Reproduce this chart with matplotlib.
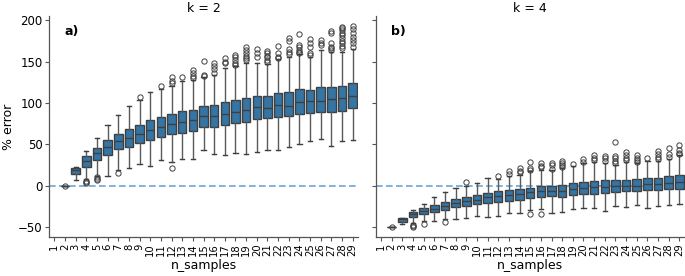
import matplotlib
matplotlib.use("Agg")
import matplotlib.pyplot as plt

n_samples = list(range(1, 30))
titles = ["k = 2", "k = 4"]
panel_tags = ["a)", "b)"]

# ---- k = 2 (index 0 -> n_samples=1, no data) ----
k2_q1 = [None, 0, 13.7, 22.9, 31.4, 36.6, 43.9, 47.1, 51.1, 55.5, 58.4, 62.8, 63.2, 66.4, 70.8,
         71.2, 72.8, 75.3, 76.5, 80.5, 81.7, 83.3, 83.7, 86.1, 87.7, 88.5, 89.3, 90.5, 94.2]
k2_med = [None, 0, 18.5, 29.8, 39.4, 46.3, 53.9, 57.9, 62.8, 67.2, 70.8, 74.0, 76.9, 79.7, 83.7,
          83.7, 86.5, 89.3, 90.9, 95.0, 94.2, 97.4, 96.2, 100.6, 101.8, 102.6, 104.2, 106.2, 108.2]
k2_q3 = [None, 0, 21.7, 35.4, 45.9, 54.7, 62.4, 68.0, 73.2, 78.9, 82.5, 86.5, 89.7, 91.8, 96.2,
         97.8, 101.0, 103.4, 106.2, 108.2, 108.2, 111.5, 113.0, 116.7, 115.9, 119.0, 119.0, 120.3, 123.5]
k2_lo = [None, 0, 6.8, 7.6, 11.5, 11.3, 18.9, 21.3, 25.8, 23.3, 30.6, 28.6, 32.6, 31.8, 42.7,
         37.8, 37.0, 39.4, 38.6, 40.2, 42.7, 42.7, 46.7, 50.0, 54.0, 56.3, 47.9, 54.3, 55.0]
k2_hi = [None, 0, 22.5, 41.4, 57.9, 72.8, 85.7, 96.6, 104.0, 112.7, 116.7, 120.0, 126.0, 127.6, 131.6,
         134.0, 142.5, 144.5, 147.7, 148.5, 146.5, 152.5, 156.0, 158.5, 156.0, 163.4, 161.8, 162.0, 164.6]
k2_fliers = [[], [0], [], [3.6, 4.8, 6.0], [6.5, 8.0, 10.0], [], [15.3], [], [107.0], [], [120.7],
             [131.0, 127.0, 124.0, 21.3], [131.0], [129.6, 133.0, 136.5, 140.0],
             [150.9, 134.0, 132.5], [148.0, 145.0, 141.0, 136.0], [153.7, 150.0, 147.7],
             [157.7, 155.0, 152.0, 148.0, 146.0], [167.8, 164.0, 160.0, 157.0, 154.0, 151.7],
             [164.6, 160.0, 155.7], [163.0, 160.0, 157.0, 155.0, 152.0, 149.7],
             [169.0, 160.0, 155.0, 153.7], [179.0, 175.0, 165.0, 161.0, 159.0],
             [183.5, 170.0, 167.0, 164.0, 162.0, 160.0], [177.0, 172.0, 168.0, 160.0, 157.8],
             [175.8, 172.0, 169.4], [187.0, 185.0, 172.0, 168.0, 166.0, 164.0],
             [192.0, 190.0, 188.0, 185.0, 182.0, 179.0, 175.0, 172.0, 169.0, 166.0],
             [192.8, 189.0, 184.0, 180.0, 176.0, 172.0, 168.0]]

# ---- k = 4 ----
k4_q1 = [None, -50, -44.3, -38.2, -34.6, -31.8, -29.4, -25.8, -24.1, -22.1, -20.9, -19.3, -18.1, -17.3, -14.5,
         -13.7, -12.9, -13.3, -11.3, -10.5, -9.7, -9.3, -7.2, -6.8, -6.4, -5.6, -4.8, -3.6, -3.6]
k4_med = [None, -50, -40.6, -34.2, -30.6, -27.8, -24.1, -20.5, -18.9, -16.9, -13.3, -12.5, -10.9, -10.1, -7.6,
          -6.8, -6.8, -6.4, -3.6, -2.8, -2.0, -1.6, -0.4, 0.0, 0.0, 1.6, 2.0, 3.6, 4.0]
k4_q3 = [None, -50, -39.0, -31.8, -27.4, -23.3, -19.3, -15.7, -13.3, -10.9, -8.9, -6.8, -5.6, -4.4, -2.4,
         0.0, 0.0, 1.2, 3.2, 4.0, 5.2, 6.4, 6.4, 7.2, 8.0, 9.3, 9.7, 11.3, 12.5]
k4_lo = [None, -50, -46.7, -44.7, -42.3, -43.0, -40.6, -40.6, -38.6, -37.0, -38.2, -37.0, -33.4, -33.4, -29.0,
         -28.6, -33.0, -32.2, -27.8, -27.4, -26.6, -30.6, -24.1, -26.2, -23.7, -26.6, -25.0, -23.7, -22.0]
k4_hi = [None, -50, -38.6, -29.0, -21.7, -14.1, -7.2, -2.4, 0.0, 3.2, 8.9, 7.6, 11.7, 13.0, 18.0,
         19.0, 19.0, 21.0, 24.0, 27.0, 29.0, 28.0, 25.0, 29.0, 27.6, 30.0, 29.8, 32.0, 37.0]
k4_fliers = [[], [-50], [], [-47.0, -48.5, -49.5], [-45.9], [], [-43.9], [], [4.4], [], [],
             [12.0], [17.7, 14.0], [21.0, 18.0, 16.0], [29.0, 21.7, 19.3, -34.6],
             [28.0, 24.0, 22.0, -34.6], [28.0, 24.5, 20.5], [30.0, 27.6, 25.0, 23.0],
             [26.6], [32.6, 29.0], [37.0, 34.0, 31.0], [35.8, 33.0, 30.0],
             [52.3, 35.8, 33.0, 30.0, 27.0], [40.2, 37.0, 34.0, 31.0], [37.0, 34.0, 31.0, 29.0],
             [33.4], [41.8, 38.0, 35.0, 32.0], [45.5, 38.0, 35.0], [49.0, 43.0, 40.0, 38.6]]

panels = [
    (k2_q1, k2_med, k2_q3, k2_lo, k2_hi, k2_fliers),
    (k4_q1, k4_med, k4_q3, k4_lo, k4_hi, k4_fliers),
]

box_color = "#3575a6"
line_color = "#3f3f3f"
whisk_color = "#5a5a5a"
fs = 8.5

fig = plt.figure(figsize=(6.85, 2.76), dpi=100)
ax1 = fig.add_axes([49 / 685, 1 - 237 / 276, 309 / 685, 221 / 276])
ax2 = fig.add_axes([375.7 / 685, 1 - 237 / 276, 309 / 685, 221 / 276], sharey=ax1)
axes = [ax1, ax2]

for ax, (q1, med, q3, lo, hi, fl), title, tag in zip(axes, panels, titles, panel_tags):
    stats, pos = [], []
    for i in range(len(n_samples)):
        if med[i] is None:
            continue
        stats.append(dict(med=med[i], q1=q1[i], q3=q3[i], whislo=lo[i], whishi=hi[i], fliers=fl[i]))
        pos.append(i)
    ax.bxp(stats, positions=pos, widths=0.8, capwidths=0.4, patch_artist=True,
           boxprops=dict(facecolor=box_color, edgecolor=line_color, linewidth=1.0),
           medianprops=dict(color=line_color, linewidth=1.0),
           whiskerprops=dict(color=whisk_color, linewidth=1.0),
           capprops=dict(color=line_color, linewidth=1.0),
           flierprops=dict(marker="o", markerfacecolor="none", markeredgecolor=line_color,
                           markersize=3.8, markeredgewidth=0.7))
    ax.axhline(0, color="#5b9bd5", linestyle=(0, (4, 2)), linewidth=1.2, alpha=0.9, zorder=0.5)
    ax.set_xlim(-0.5, len(n_samples) - 0.5)
    ax.set_xticks(range(len(n_samples)))
    ax.set_xticklabels([str(v) for v in n_samples], rotation=90, fontsize=7.2)
    ax.set_xlabel("n_samples", fontsize=fs + 0.5, labelpad=2)
    ax.set_title(title, fontsize=fs + 0.5, pad=3)
    ax.text(0.05, 0.93, tag, transform=ax.transAxes, fontsize=fs + 0.5,
            fontweight="bold", ha="left", va="center")
    for s in ["top", "right"]:
        ax.spines[s].set_visible(False)
    for s in ["left", "bottom"]:
        ax.spines[s].set_color("#555555")
        ax.spines[s].set_linewidth(0.9)
    ax.tick_params(axis="both", length=3, width=0.8, color="#555555", pad=1.5)
    ax.tick_params(axis="y", labelsize=fs)

ax1.set_ylim(-62, 205)
ax1.set_yticks([-50, 0, 50, 100, 150, 200])
ax1.set_ylabel("% error", fontsize=fs + 0.5, labelpad=2)
ax2.tick_params(axis="y", labelleft=False)

fig.savefig("out.png", dpi=100)
